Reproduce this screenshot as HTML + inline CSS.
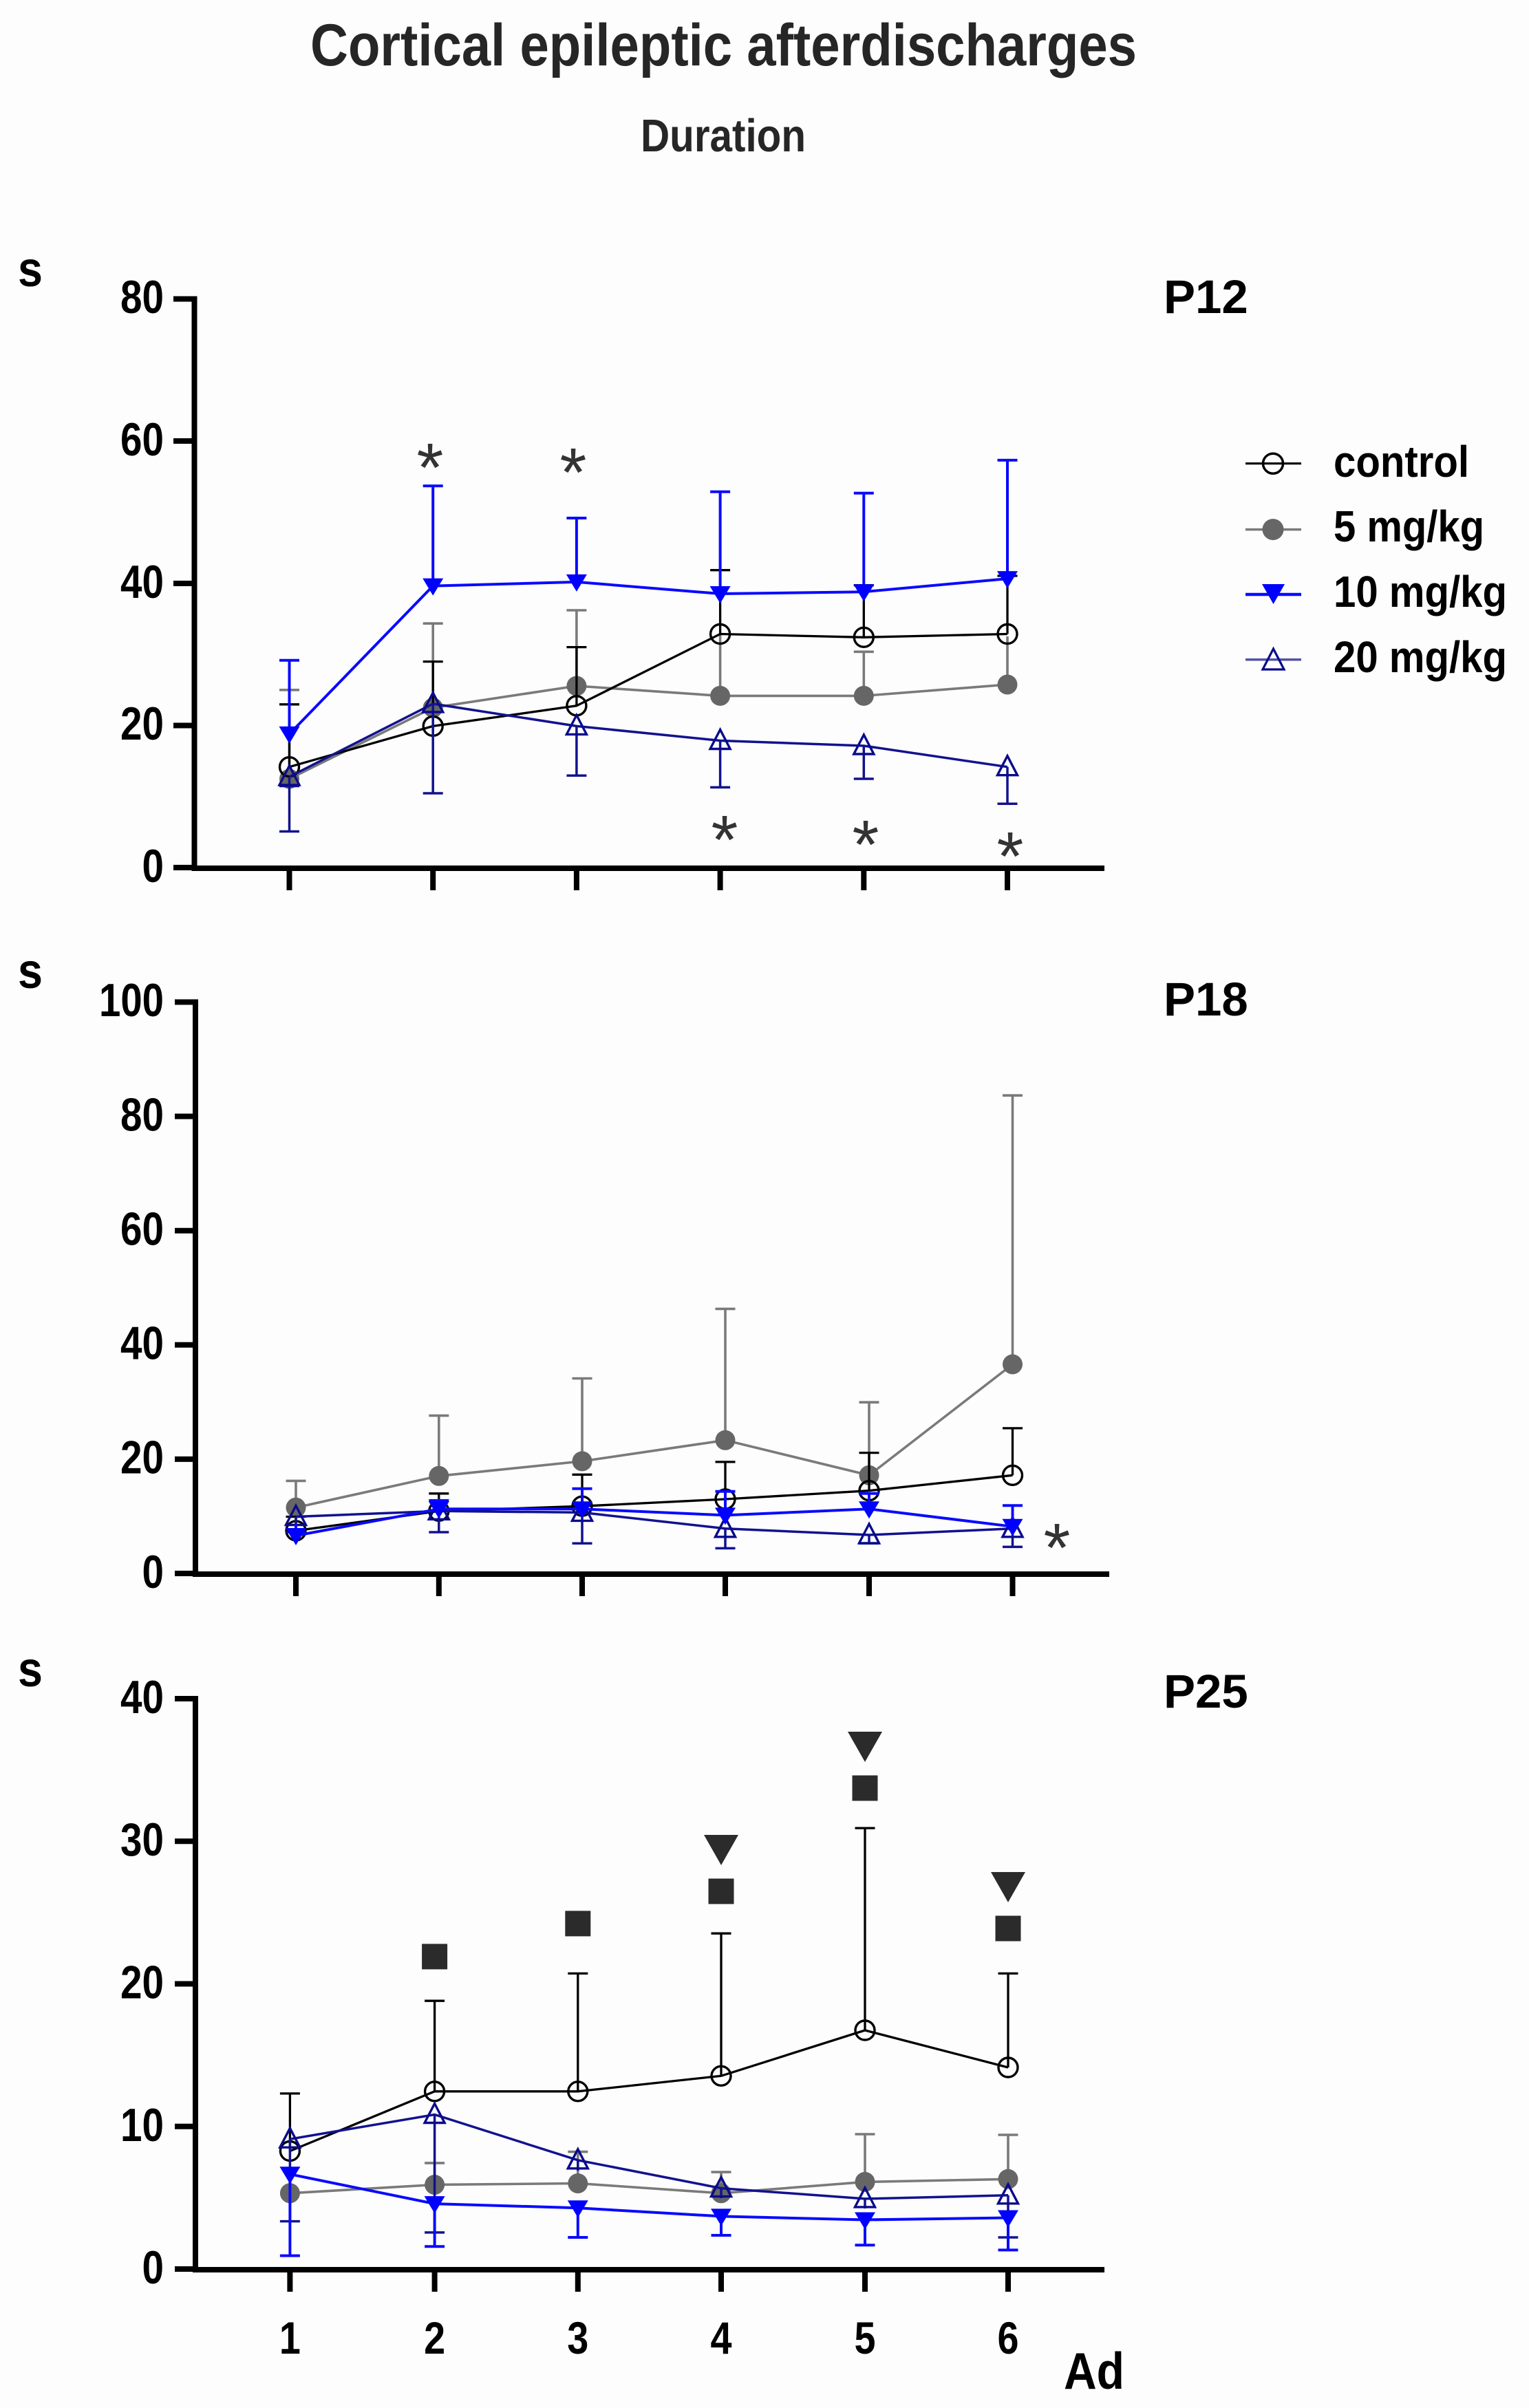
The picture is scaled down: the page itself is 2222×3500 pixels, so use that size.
<!DOCTYPE html>
<html><head><meta charset="utf-8"><style>
html,body{margin:0;padding:0;background:#fdfdfd;}
svg{display:block;}
text{font-family:"Liberation Sans",Arial,sans-serif;}
</style></head><body>
<svg width="2222" height="3500" viewBox="0 0 2222 3500" xmlns="http://www.w3.org/2000/svg">
<rect width="2222" height="3500" fill="#fdfdfd"/>
<defs>
<g id="oc"><circle r="14" fill="none" stroke="#000" stroke-width="3.4"/></g>
<g id="gc"><circle r="14.5" fill="#666"/></g>
<g id="bt"><path d="M-15,-11 L15,-11 L0,14 Z" fill="#0000ff"/></g>
<g id="nt"><path d="M0,-16 L-14.5,12 L14.5,12 Z" fill="none" stroke="#0a0a8c" stroke-width="3.4"/></g>
<g id="sq"><rect x="-18.5" y="-18.5" width="37" height="37" fill="#2b2b2b"/></g>
<g id="dt"><path d="M-25,-22 L25,-22 L0,22 Z" fill="#2b2b2b"/></g>
</defs>

<!-- Titles -->
<text x="451" y="95" font-size="86" font-weight="bold" fill="#262626" textLength="1201" lengthAdjust="spacingAndGlyphs">Cortical epileptic afterdischarges</text>
<text x="931" y="220" font-size="67" font-weight="bold" fill="#262626" textLength="240" lengthAdjust="spacingAndGlyphs">Duration</text>

<!-- ============ P12 ============ -->
<g font-weight="bold" fill="#000">
<text x="26" y="416" font-size="72" textLength="36" lengthAdjust="spacingAndGlyphs">s</text>
<text x="1691" y="455" font-size="69">P12</text>
<g font-size="68" text-anchor="end" lengthAdjust="spacingAndGlyphs">
<text x="238" y="455" textLength="63" lengthAdjust="spacingAndGlyphs">80</text>
<text x="238" y="662" textLength="63" lengthAdjust="spacingAndGlyphs">60</text>
<text x="238" y="869" textLength="63" lengthAdjust="spacingAndGlyphs">40</text>
<text x="238" y="1075" textLength="63" lengthAdjust="spacingAndGlyphs">20</text>
<text x="238" y="1282" textLength="31.5" lengthAdjust="spacingAndGlyphs">0</text>
</g>
</g>
<g stroke="#000" fill="none">
<path d="M282.5,430.5 V1266" stroke-width="8"/>
<path d="M278.5,1262 H1605" stroke-width="8"/>
<path d="M252,434.5 H282 M252,641 H282 M252,848 H282 M252,1054.5 H282 M252,1261 H282" stroke-width="8"/>
<path d="M420.5,1262 V1294 M629.2,1262 V1294 M837.9,1262 V1294 M1046.6,1262 V1294 M1255.3,1262 V1294 M1464,1262 V1294" stroke-width="8"/>
</g>
<!-- gray 5 mg -->
<g stroke="#7a7a7a" stroke-width="3.6" fill="none">
<polyline points="420.5,1132 629.2,1028.6 837.9,997 1046.6,1011.4 1255.3,1011.4 1464,995"/>
<path d="M420.5,1132 V1002.8 M406,1002.8 H435 M629.2,1028.6 V906.2 M614.7,906.2 H643.7 M837.9,997 V887 M823.4,887 H852.4 M1046.6,1011.4 V921 M1255.3,1011.4 V947.3 M1240.8,947.3 H1269.8 M1464,995 V925"/>
</g>
<g><use href="#gc" x="420.5" y="1132"/><use href="#gc" x="629.2" y="1028.6"/><use href="#gc" x="837.9" y="997"/><use href="#gc" x="1046.6" y="1011.4"/><use href="#gc" x="1255.3" y="1011.4"/><use href="#gc" x="1464" y="995"/></g>
<!-- control -->
<g stroke="#000" stroke-width="3.3" fill="none">
<polyline points="420.5,1114.7 629.2,1055.4 837.9,1025.8 1046.6,921.5 1255.3,926.3 1464,921.5"/>
<path d="M420.5,1114.7 V1023.8 M406,1023.8 H435 M629.2,1055.4 V961.6 M614.7,961.6 H643.7 M837.9,1025.8 V940.6 M823.4,940.6 H852.4 M1046.6,921.5 V828.7 M1032.1,828.7 H1061.1 M1255.3,926.3 V850.7 M1240.8,850.7 H1269.8 M1464,921.5 V837 M1449.5,837 H1478.5"/>
</g>
<g><use href="#oc" x="420.5" y="1114.7"/><use href="#oc" x="629.2" y="1055.4"/><use href="#oc" x="837.9" y="1025.8"/><use href="#oc" x="1046.6" y="921.5"/><use href="#oc" x="1255.3" y="926.3"/><use href="#oc" x="1464" y="921.5"/></g>
<!-- navy 20 mg -->
<g stroke="#12128f" stroke-width="3.5" fill="none">
<polyline points="420.5,1129 629.2,1022.9 837.9,1055.4 1046.6,1076.5 1255.3,1084 1464,1114.7"/>
<path d="M420.5,1129 V1208.5 M406,1208.5 H435 M406,1142.5 H435 M629.2,1022.9 V1153 M614.7,1153 H643.7 M837.9,1055.4 V1127.2 M823.4,1127.2 H852.4 M1046.6,1076.5 V1144.4 M1032.1,1144.4 H1061.1 M1255.3,1084 V1132 M1240.8,1132 H1269.8 M1464,1114.7 V1168.3 M1449.5,1168.3 H1478.5"/>
</g>
<g><use href="#nt" x="420.5" y="1129"/><use href="#nt" x="629.2" y="1022.9"/><use href="#nt" x="837.9" y="1055.4"/><use href="#nt" x="1046.6" y="1076.5"/><use href="#nt" x="1255.3" y="1084"/><use href="#nt" x="1464" y="1114.7"/></g>
<!-- blue 10 mg -->
<g stroke="#0a0aff" stroke-width="4" fill="none">
<polyline points="420.5,1066.9 629.2,851.6 837.9,845.9 1046.6,863 1255.3,860.2 1464,841.1"/>
<path d="M420.5,1066.9 V959.7 M406,959.7 H435 M629.2,851.6 V706.2 M614.7,706.2 H643.7 M837.9,845.9 V753 M823.4,753 H852.4 M1046.6,863 V714.8 M1032.1,714.8 H1061.1 M1255.3,860.2 V716.7 M1240.8,716.7 H1269.8 M1464,841.1 V668.9 M1449.5,668.9 H1478.5"/>
</g>
<g><use href="#bt" x="420.5" y="1066.9"/><use href="#bt" x="629.2" y="851.6"/><use href="#bt" x="837.9" y="845.9"/><use href="#bt" x="1046.6" y="863"/><use href="#bt" x="1255.3" y="860.2"/><use href="#bt" x="1464" y="841.1"/></g>
<!-- asterisks -->
<g font-size="100" fill="#333" text-anchor="middle">
<text x="625" y="714">*</text>
<text x="833" y="721">*</text>
<text x="1053" y="1255">*</text>
<text x="1258" y="1262">*</text>
<text x="1468" y="1279">*</text>
</g>

<!-- Legend -->
<g fill="none">
<path d="M1810,673.7 H1891" stroke="#000" stroke-width="3.2"/>
<circle cx="1850" cy="673.7" r="14.5" stroke="#000" stroke-width="3.5"/>
<path d="M1810,769.6 H1891" stroke="#7a7a7a" stroke-width="3.5"/>
<circle cx="1850" cy="769.6" r="15.5" fill="#666" stroke="none"/>
<path d="M1810,864 H1891" stroke="#0a0aff" stroke-width="4.5"/>
<path d="M1834,849 L1867,849 L1850.5,878 Z" fill="#0000ff" stroke="none"/>
<path d="M1810,958.7 H1891" stroke="#5252a8" stroke-width="3.5"/>
<path d="M1850.5,943 L1835,973 L1866,973 Z" fill="none" stroke="#0a0a8c" stroke-width="3.2"/>
</g>
<g font-weight="bold" fill="#000" font-size="64">
<text x="1938" y="693" textLength="197" lengthAdjust="spacingAndGlyphs">control</text>
<text x="1938" y="787" textLength="219" lengthAdjust="spacingAndGlyphs">5 mg/kg</text>
<text x="1938" y="882" textLength="252" lengthAdjust="spacingAndGlyphs">10 mg/kg</text>
<text x="1938" y="977" textLength="252" lengthAdjust="spacingAndGlyphs">20 mg/kg</text>
</g>

<!-- ============ P18 ============ -->
<g font-weight="bold" fill="#000">
<text x="26" y="1436" font-size="72" textLength="36" lengthAdjust="spacingAndGlyphs">s</text>
<text x="1691" y="1476" font-size="69">P18</text>
<g font-size="68" text-anchor="end">
<text x="238" y="1477" textLength="94" lengthAdjust="spacingAndGlyphs">100</text>
<text x="238" y="1643.5" textLength="63" lengthAdjust="spacingAndGlyphs">80</text>
<text x="238" y="1809.5" textLength="63" lengthAdjust="spacingAndGlyphs">60</text>
<text x="238" y="1975.5" textLength="63" lengthAdjust="spacingAndGlyphs">40</text>
<text x="238" y="2141.5" textLength="63" lengthAdjust="spacingAndGlyphs">20</text>
<text x="238" y="2308" textLength="31.5" lengthAdjust="spacingAndGlyphs">0</text>
</g>
</g>
<g stroke="#000" fill="none">
<path d="M284,1452.5 V2292" stroke-width="8"/>
<path d="M280,2288 H1612" stroke-width="8"/>
<path d="M254,1456.5 H284 M254,1622.6 H284 M254,1788.7 H284 M254,1954.8 H284 M254,2120.9 H284 M254,2287 H284" stroke-width="8"/>
<path d="M430,2288 V2320 M637.8,2288 V2320 M846,2288 V2320 M1054,2288 V2320 M1263,2288 V2320 M1471.5,2288 V2320" stroke-width="8"/>
</g>
<g stroke="#7a7a7a" stroke-width="3.6" fill="none">
<polyline points="430,2191.2 637.8,2145.3 846,2123.9 1054,2093.3 1263,2144.3 1471.5,1983"/>
<path d="M430,2191.2 V2152.4 M415.5,2152.4 H444.5 M637.8,2145.3 V2057.6 M623.3,2057.6 H652.3 M846,2123.9 V2003.5 M831.5,2003.5 H860.5 M1054,2093.3 V1902.4 M1039.5,1902.4 H1068.5 M1263,2144.3 V2038.2 M1248.5,2038.2 H1277.5 M1471.5,1983 V1592.2 M1457,1592.2 H1486"/>
</g>
<g><use href="#gc" x="430" y="2191.2"/><use href="#gc" x="637.8" y="2145.3"/><use href="#gc" x="846" y="2123.9"/><use href="#gc" x="1054" y="2093.3"/><use href="#gc" x="1263" y="2144.3"/><use href="#gc" x="1471.5" y="1983"/></g>
<g stroke="#000" stroke-width="3.3" fill="none">
<polyline points="430,2224.9 637.8,2196.3 846,2189.2 1054,2179 1263,2166.7 1471.5,2144.3"/>
<path d="M430,2224.9 V2204.5 M415.5,2204.5 H444.5 M637.8,2196.3 V2170.8 M623.3,2170.8 H652.3 M846,2189.2 V2143.3 M831.5,2143.3 H860.5 M1054,2179 V2124.9 M1039.5,2124.9 H1068.5 M1263,2166.7 V2111.6 M1248.5,2111.6 H1277.5 M1471.5,2144.3 V2075.9 M1457,2075.9 H1486"/>
</g>
<g><use href="#oc" x="430" y="2224.9"/><use href="#oc" x="637.8" y="2196.3"/><use href="#oc" x="846" y="2189.2"/><use href="#oc" x="1054" y="2179"/><use href="#oc" x="1263" y="2166.7"/><use href="#oc" x="1471.5" y="2144.3"/></g>
<g stroke="#12128f" stroke-width="3.5" fill="none">
<polyline points="430,2204.5 637.8,2196.3 846,2198.4 1054,2221.8 1263,2231 1471.5,2221.8"/>
<path d="M430,2204.5 V2227 M415.5,2227 H444.5 M637.8,2196.3 V2227 M623.3,2227 H652.3 M846,2198.4 V2243.3 M831.5,2243.3 H860.5 M1054,2221.8 V2250.4 M1039.5,2250.4 H1068.5 M1263,2231 V2243.3 M1248.5,2243.3 H1277.5 M1471.5,2221.8 V2248.4 M1457,2248.4 H1486"/>
</g>
<g><use href="#nt" x="430" y="2204.5"/><use href="#nt" x="637.8" y="2196.3"/><use href="#nt" x="846" y="2198.4"/><use href="#nt" x="1054" y="2221.8"/><use href="#nt" x="1263" y="2231"/><use href="#nt" x="1471.5" y="2221.8"/></g>
<g stroke="#0a0aff" stroke-width="4" fill="none">
<polyline points="430,2232 637.8,2193.3 846,2193.3 1054,2202.4 1263,2193.3 1471.5,2218.8"/>
<path d="M430,2232 V2215 M637.8,2193.3 V2181 M623.3,2181 H652.3 M846,2193.3 V2163.7 M831.5,2163.7 H860.5 M1054,2202.4 V2167.8 M1039.5,2167.8 H1068.5 M1263,2193.3 V2170.8 M1248.5,2170.8 H1277.5 M1471.5,2218.8 V2188.2 M1457,2188.2 H1486"/>
</g>
<g><use href="#bt" x="430" y="2232"/><use href="#bt" x="637.8" y="2193.3"/><use href="#bt" x="846" y="2193.3"/><use href="#bt" x="1054" y="2202.4"/><use href="#bt" x="1263" y="2193.3"/><use href="#bt" x="1471.5" y="2218.8"/></g>
<text x="1536" y="2284" font-size="100" fill="#333" text-anchor="middle">*</text>

<!-- ============ P25 ============ -->
<g font-weight="bold" fill="#000">
<text x="26" y="2451" font-size="72" textLength="36" lengthAdjust="spacingAndGlyphs">s</text>
<text x="1691" y="2482" font-size="69">P25</text>
<g font-size="68" text-anchor="end">
<text x="238" y="2490" textLength="63" lengthAdjust="spacingAndGlyphs">40</text>
<text x="238" y="2697" textLength="63" lengthAdjust="spacingAndGlyphs">30</text>
<text x="238" y="2904.5" textLength="63" lengthAdjust="spacingAndGlyphs">20</text>
<text x="238" y="3112" textLength="63" lengthAdjust="spacingAndGlyphs">10</text>
<text x="238" y="3319" textLength="31.5" lengthAdjust="spacingAndGlyphs">0</text>
</g>
<g font-size="66" text-anchor="middle">
<text x="421.4" y="3421" textLength="31" lengthAdjust="spacingAndGlyphs">1</text>
<text x="631.6" y="3421" textLength="31" lengthAdjust="spacingAndGlyphs">2</text>
<text x="839.8" y="3421" textLength="31" lengthAdjust="spacingAndGlyphs">3</text>
<text x="1048" y="3421" textLength="31" lengthAdjust="spacingAndGlyphs">4</text>
<text x="1257" y="3421" textLength="31" lengthAdjust="spacingAndGlyphs">5</text>
<text x="1465" y="3421" textLength="31" lengthAdjust="spacingAndGlyphs">6</text>
</g>
<text x="1546" y="3472" font-size="75" textLength="88" lengthAdjust="spacingAndGlyphs">Ad</text>
</g>
<g stroke="#000" fill="none">
<path d="M284,2465 V3303" stroke-width="8"/>
<path d="M280,3299 H1605" stroke-width="8"/>
<path d="M254,2469 H284 M254,2676.3 H284 M254,2883.5 H284 M254,3090.8 H284 M254,3298 H284" stroke-width="8"/>
<path d="M421.4,3299 V3331 M631.6,3299 V3331 M839.8,3299 V3331 M1048,3299 V3331 M1257,3299 V3331 M1465,3299 V3331" stroke-width="8"/>
</g>
<g stroke="#7a7a7a" stroke-width="3.6" fill="none">
<polyline points="421.4,3187.8 631.6,3175.5 839.8,3173.5 1048,3187.8 1257,3171.4 1465,3167.3"/>
<path d="M421.4,3187.8 V3160 M631.6,3175.5 V3143.9 M617.1,3143.9 H646.1 M839.8,3173.5 V3127.6 M825.3,3127.6 H854.3 M1048,3187.8 V3157.1 M1033.5,3157.1 H1062.5 M1257,3171.4 V3102 M1242.5,3102 H1271.5 M1465,3167.3 V3103 M1450.5,3103 H1479.5"/>
</g>
<g><use href="#gc" x="421.4" y="3187.8"/><use href="#gc" x="631.6" y="3175.5"/><use href="#gc" x="839.8" y="3173.5"/><use href="#gc" x="1048" y="3187.8"/><use href="#gc" x="1257" y="3171.4"/><use href="#gc" x="1465" y="3167.3"/></g>
<g stroke="#000" stroke-width="3.3" fill="none">
<polyline points="421.4,3126.5 631.6,3039.8 839.8,3039.8 1048,3017.3 1257,2951 1465,3005"/>
<path d="M421.4,3126.5 V3042.9 M406.9,3042.9 H435.9 M631.6,3039.8 V2908.2 M617.1,2908.2 H646.1 M839.8,3039.8 V2868.4 M825.3,2868.4 H854.3 M1048,3017.3 V2810.2 M1033.5,2810.2 H1062.5 M1257,2951 V2657.1 M1242.5,2657.1 H1271.5 M1465,3005 V2868.4 M1450.5,2868.4 H1479.5"/>
</g>
<g><use href="#oc" x="421.4" y="3126.5"/><use href="#oc" x="631.6" y="3039.8"/><use href="#oc" x="839.8" y="3039.8"/><use href="#oc" x="1048" y="3017.3"/><use href="#oc" x="1257" y="2951"/><use href="#oc" x="1465" y="3005"/></g>
<g stroke="#12128f" stroke-width="3.5" fill="none">
<polyline points="421.4,3109.2 631.6,3073.5 839.8,3139.8 1048,3180.6 1257,3195.9 1465,3190.8"/>
<path d="M421.4,3109.2 V3228.6 M406.9,3228.6 H435.9 M631.6,3073.5 V3244.9 M617.1,3244.9 H646.1 M839.8,3139.8 V3155 M1048,3180.6 V3195 M1257,3195.9 V3210 M1465,3190.8 V3252 M1450.5,3252 H1479.5"/>
</g>
<g><use href="#nt" x="421.4" y="3109.2"/><use href="#nt" x="631.6" y="3073.5"/><use href="#nt" x="839.8" y="3139.8"/><use href="#nt" x="1048" y="3180.6"/><use href="#nt" x="1257" y="3195.9"/><use href="#nt" x="1465" y="3190.8"/></g>
<g stroke="#0a0aff" stroke-width="4" fill="none">
<polyline points="421.4,3160.2 631.6,3203.1 839.8,3209.2 1048,3221.4 1257,3226.5 1465,3223.5"/>
<path d="M421.4,3160.2 V3278.6 M406.9,3278.6 H435.9 M631.6,3203.1 V3265.3 M617.1,3265.3 H646.1 M839.8,3209.2 V3252 M825.3,3252 H854.3 M1048,3221.4 V3249 M1033.5,3249 H1062.5 M1257,3226.5 V3263.3 M1242.5,3263.3 H1271.5 M1465,3223.5 V3270.4 M1450.5,3270.4 H1479.5"/>
</g>
<g><use href="#bt" x="421.4" y="3160.2"/><use href="#bt" x="631.6" y="3203.1"/><use href="#bt" x="839.8" y="3209.2"/><use href="#bt" x="1048" y="3221.4"/><use href="#bt" x="1257" y="3226.5"/><use href="#bt" x="1465" y="3223.5"/></g>
<!-- significance markers -->
<g>
<use href="#sq" x="631.6" y="2843.9"/>
<use href="#sq" x="839.8" y="2795.9"/>
<use href="#sq" x="1048" y="2749"/>
<use href="#sq" x="1257" y="2599"/>
<use href="#sq" x="1465" y="2803"/>
<use href="#dt" x="1048" y="2689"/>
<use href="#dt" x="1257" y="2539"/>
<use href="#dt" x="1465" y="2743"/>
</g>
</svg>
</body></html>
